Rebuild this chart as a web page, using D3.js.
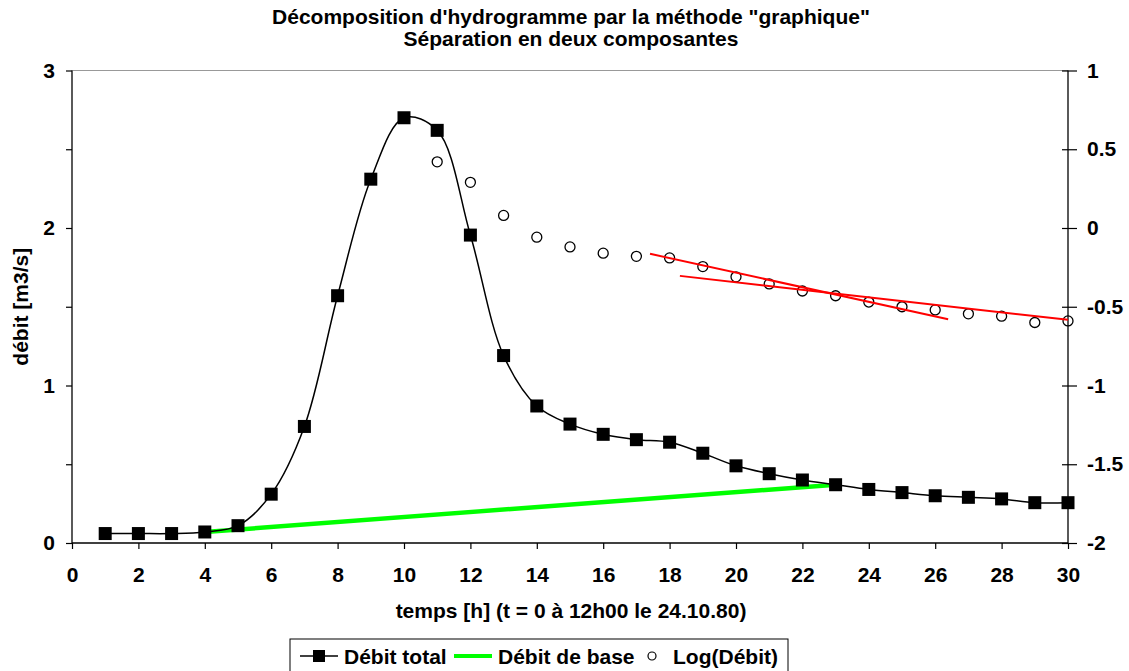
<!DOCTYPE html>
<html>
<head>
<meta charset="utf-8">
<script src="https://cdn.jsdelivr.net/npm/d3@7"></script>
<style>
  body { margin: 0; background: #fff; }
  text { font-family: "Liberation Sans", Arial, sans-serif; font-weight: bold; fill: #000; }
</style>
</head>
<body>
<script>
// data
var hours = [1, 2, 3, 4, 5, 6, 7, 8, 9, 10, 11, 12, 13, 14, 15, 16, 17, 18, 19, 20, 21, 22, 23, 24, 25, 26, 27, 28, 29, 30];
var debitTotal = [0.06, 0.06, 0.06, 0.07, 0.11, 0.31, 0.74, 1.57, 2.31, 2.70, 2.62, 1.955, 1.19, 0.87, 0.755, 0.69, 0.656, 0.64, 0.57, 0.49, 0.44, 0.40, 0.37, 0.34, 0.32, 0.30, 0.29, 0.28, 0.256, 0.256];
var logHours = [11, 12, 13, 14, 15, 16, 17, 18, 19, 20, 21, 22, 23, 24, 25, 26, 27, 28, 29, 30];
var logDebit = [0.42, 0.29, 0.08, -0.058, -0.12, -0.16, -0.18, -0.19, -0.245, -0.31, -0.355, -0.40, -0.43, -0.47, -0.50, -0.52, -0.545, -0.56, -0.60, -0.59];
var baseHours = [4, 23];
var baseDebit = [0.07, 0.37];
// two regression lines on the log plot
var fit1 = [[17.41, -0.164], [26.39, -0.579]];
var fit2 = [[18.31, -0.304], [30, -0.583]];

var xTicks = d3.range(0, 31, 2);
var yLeftTicks = [0, 0.5, 1, 1.5, 2, 2.5, 3];
var yRightTicks = [1, 0.5, 0, -0.5, -1, -1.5, -2];

var width = 1129, height = 671;
var margin = { top: 70.5, right: 61, bottom: 128, left: 72 };
var fontSize = '21px';

var svg = d3.select('body').append('svg')
  .attr('width', width)
  .attr('height', height);

var x = d3.scaleLinear().domain([0, 30]).range([margin.left, width - margin.right]);
var y = d3.scaleLinear().domain([0, 3]).range([height - margin.bottom, margin.top]);
var y2 = d3.scaleLinear().domain([-2, 1]).range([height - margin.bottom, margin.top]);

// top border of plot area
svg.append('line')
  .attr('x1', x(0)).attr('x2', x(30))
  .attr('y1', y(3)).attr('y2', y(3))
  .attr('stroke', '#999').attr('stroke-width', 1);

// axes
var xAxis = svg.append('g')
  .attr('transform', 'translate(0,' + y(0) + ')')
  .call(d3.axisBottom(x).tickValues(xTicks).tickSize(6).tickPadding(18).tickFormat(d3.format('d')));

var yAxis = svg.append('g')
  .attr('transform', 'translate(' + x(0) + ',0)')
  .call(d3.axisLeft(y).tickValues(yLeftTicks).tickSize(6).tickPadding(11)
    .tickFormat(function(d) { return d % 1 === 0 ? d : ''; }));

var yAxis2 = svg.append('g')
  .attr('transform', 'translate(' + x(30) + ',0)')
  .call(d3.axisRight(y2).tickValues(yRightTicks).tickSize(9).tickPadding(10).tickFormat(function(d) { return d; }));

yAxis2.selectAll('.tick line').attr('x1', -6).attr('x2', 9);

[xAxis, yAxis, yAxis2].forEach(function(g) {
  g.select('.domain').attr('stroke', '#000').attr('stroke-width', 1.3);
  g.selectAll('.tick line').attr('stroke', '#000').attr('stroke-width', 1.2);
  g.selectAll('.tick text').style('font-size', fontSize).style('font-weight', 'bold')
    .style('font-family', '"Liberation Sans", Arial, sans-serif');
});
xAxis.select('.domain').attr('d', 'M' + x(0) + ',0H' + x(30));
yAxis.select('.domain').attr('d', 'M0,' + y(0) + 'V' + y(3));
yAxis2.select('.domain').attr('d', 'M0,' + y2(-2) + 'V' + y2(1));

// base flow (green)
svg.append('path')
  .datum(d3.zip(baseHours, baseDebit))
  .attr('fill', 'none')
  .attr('stroke', '#00ff00')
  .attr('stroke-width', 4.5)
  .attr('d', d3.line().x(function(d) { return x(d[0]); }).y(function(d) { return y(d[1]); }));

// total flow smoothed line
var totalData = d3.zip(hours, debitTotal);
svg.append('path')
  .datum(totalData)
  .attr('fill', 'none')
  .attr('stroke', '#000')
  .attr('stroke-width', 1.5)
  .attr('d', d3.line().curve(d3.curveCatmullRom.alpha(0.5))
    .x(function(d) { return x(d[0]); }).y(function(d) { return y(d[1]); }));

// squares
svg.selectAll('rect.pt')
  .data(totalData)
  .enter().append('rect')
  .attr('class', 'pt')
  .attr('x', function(d) { return x(d[0]) - 6.5; })
  .attr('y', function(d) { return y(d[1]) - 6.5; })
  .attr('width', 13).attr('height', 13)
  .attr('fill', '#000');

// log circles
svg.selectAll('circle.log')
  .data(d3.zip(logHours, logDebit))
  .enter().append('circle')
  .attr('class', 'log')
  .attr('cx', function(d) { return x(d[0]); })
  .attr('cy', function(d) { return y2(d[1]); })
  .attr('r', 5)
  .attr('fill', 'none')
  .attr('stroke', '#000')
  .attr('stroke-width', 1.3);

// red fit lines
[fit1, fit2].forEach(function(f) {
  svg.append('path')
    .datum(f)
    .attr('fill', 'none')
    .attr('stroke', '#ff0000')
    .attr('stroke-width', 2)
    .attr('d', d3.line().x(function(d) { return x(d[0]); }).y(function(d) { return y2(d[1]); }));
});

// titles
svg.append('text').attr('x', 571).attr('y', 24).attr('text-anchor', 'middle')
  .style('font-size', fontSize)
  .text('Décomposition d\'hydrogramme par la méthode "graphique"');
svg.append('text').attr('x', 571).attr('y', 46).attr('text-anchor', 'middle')
  .style('font-size', fontSize)
  .text('Séparation en deux composantes');

svg.append('text').attr('x', 571).attr('y', 618).attr('text-anchor', 'middle')
  .style('font-size', fontSize)
  .text('temps [h] (t = 0 à 12h00 le 24.10.80)');

svg.append('text')
  .attr('transform', 'translate(28,' + ((y(0) + y(3)) / 2) + ') rotate(-90)')
  .attr('text-anchor', 'middle')
  .style('font-size', fontSize)
  .text('débit [m3/s]');

// legend
var legend = svg.append('g').attr('transform', 'translate(290,639)');
legend.append('rect')
  .attr('x', 0).attr('y', 0).attr('width', 498).attr('height', 40)
  .attr('fill', '#fff').attr('stroke', '#000').attr('stroke-width', 1);

legend.append('line').attr('x1', 10).attr('x2', 48).attr('y1', 17).attr('y2', 17)
  .attr('stroke', '#000').attr('stroke-width', 1.5);
legend.append('rect').attr('x', 23).attr('y', 11).attr('width', 12).attr('height', 12).attr('fill', '#000');
legend.append('text').attr('x', 54).attr('y', 25).style('font-size', fontSize).text('Débit total');

legend.append('line').attr('x1', 164).attr('x2', 202).attr('y1', 17).attr('y2', 17)
  .attr('stroke', '#00ff00').attr('stroke-width', 4);
legend.append('text').attr('x', 208).attr('y', 25).style('font-size', fontSize).text('Débit de base');

legend.append('circle').attr('cx', 362).attr('cy', 17).attr('r', 4)
  .attr('fill', 'none').attr('stroke', '#000').attr('stroke-width', 1.2);
legend.append('text').attr('x', 383).attr('y', 25).style('font-size', fontSize).text('Log(Débit)');
</script>
</body>
</html>
